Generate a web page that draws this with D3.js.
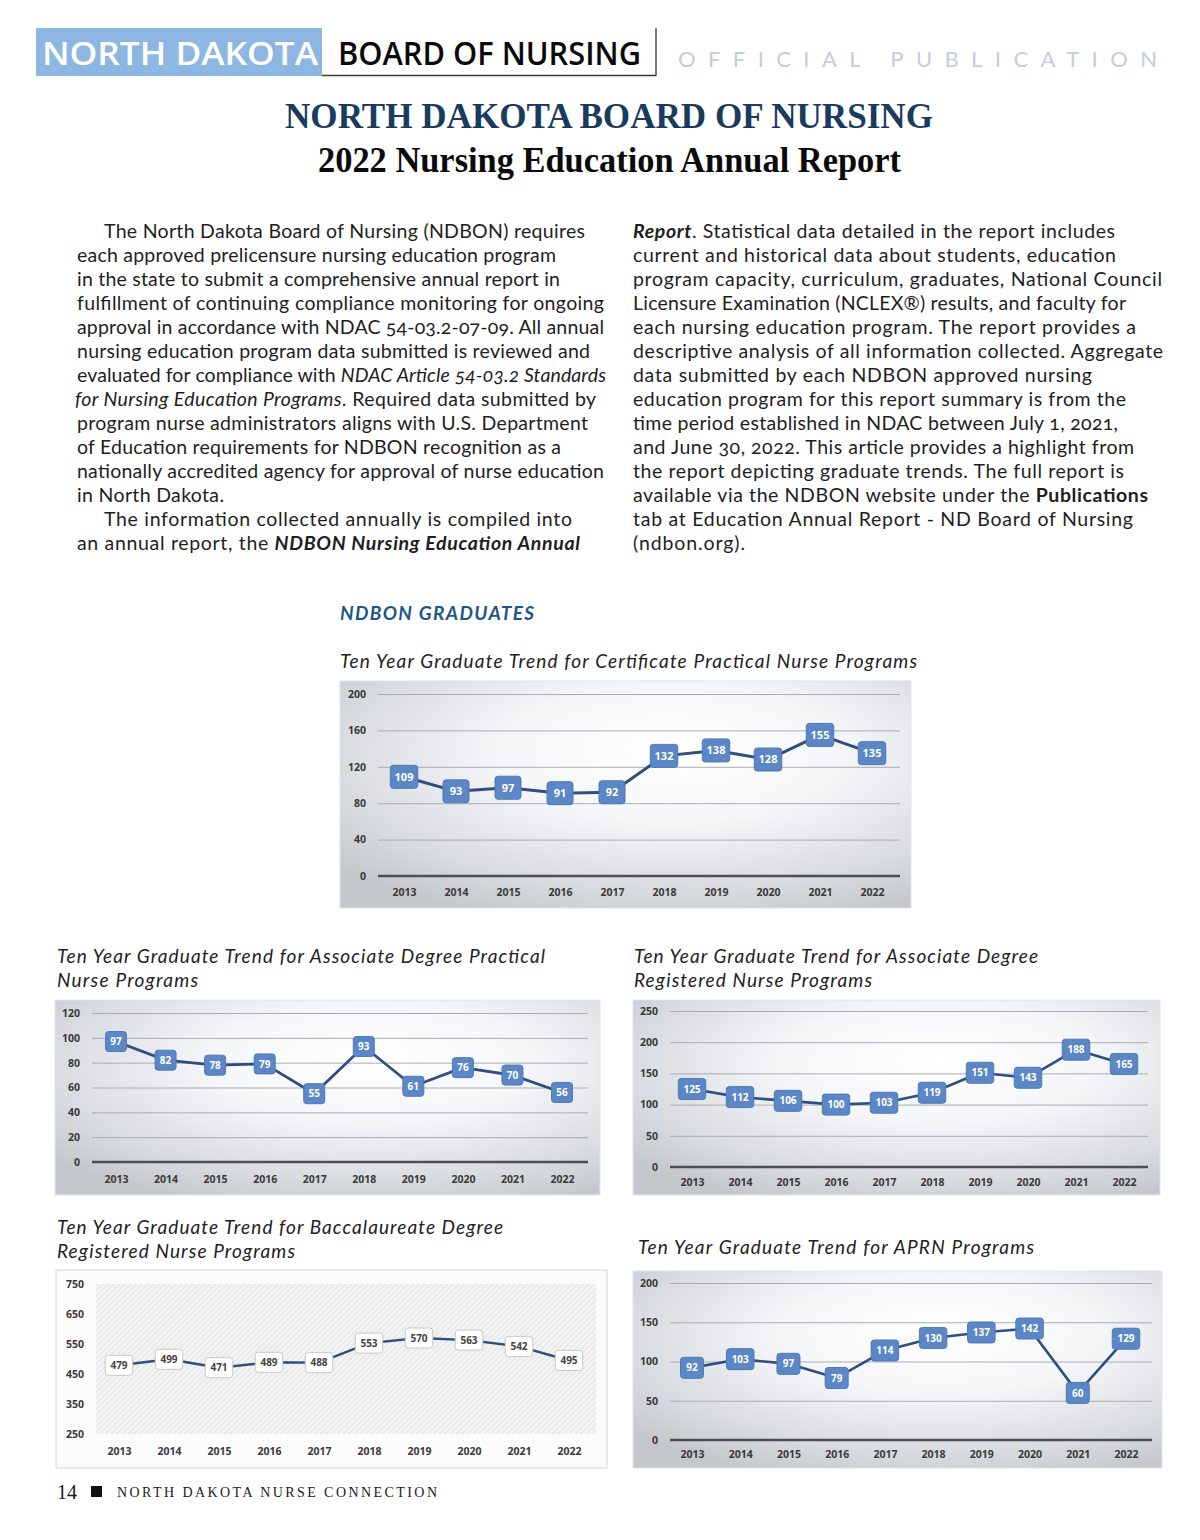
<!DOCTYPE html>
<html>
<head>
<meta charset="utf-8">
<script src="https://cdn.jsdelivr.net/npm/d3@7/dist/d3.min.js"></script>
<style>
  html, body { margin: 0; padding: 0; background: #ffffff; }
  svg { display: block; }
  .body-text { font-variant-numeric: oldstyle-nums; }
</style>
</head>
<body>
<script>
// ---------------- DATA ----------------
const years = ["2013","2014","2015","2016","2017","2018","2019","2020","2021","2022"];
const certificatePN = [109, 93, 97, 91, 92, 132, 138, 128, 155, 135];
const associatePN   = [97, 82, 78, 79, 55, 93, 61, 76, 70, 56];
const associateRN   = [125, 112, 106, 100, 103, 119, 151, 143, 188, 165];
const baccalaureateRN = [479, 499, 471, 489, 488, 553, 570, 563, 542, 495];
const aprn          = [92, 103, 97, 79, 114, 130, 137, 142, 60, 129];

const certificateTicks = [0, 40, 80, 120, 160, 200];
const associatePNTicks = [0, 20, 40, 60, 80, 100, 120];
const associateRNTicks = [0, 50, 100, 150, 200, 250];
const baccalaureateTicks = [250, 350, 450, 550, 650, 750];
const aprnTicks = [0, 50, 100, 150, 200];

// ---------------- TEXT ----------------
const leftLines = [
  [["The North Dakota Board of Nursing (NDBON) requires","n"]],
  [["each approved prelicensure nursing education program","n"]],
  [["in the state to submit a comprehensive annual report in","n"]],
  [["fulfillment of continuing compliance monitoring for ongoing","n"]],
  [["approval in accordance with NDAC 54-03.2-07-09. All annual","n"]],
  [["nursing education program data submitted is reviewed and","n"]],
  [["evaluated for compliance with ","n"],["NDAC Article 54-03.2 Standards","i"]],
  [["for Nursing Education Programs","i"],[". Required data submitted by","n"]],
  [["program nurse administrators aligns with U.S. Department","n"]],
  [["of Education requirements for NDBON recognition as a","n"]],
  [["nationally accredited agency for approval of nurse education","n"]],
  [["in North Dakota.","n"]],
  [["The information collected annually is compiled into","n"]],
  [["an annual report, the ","n"],["NDBON Nursing Education Annual","bi"]]
];
const leftStarts = [104,77,77,77,77,77,77,75,77,77,77,77,104,77];
const leftEnds   = [585,556,560,604,604,590,606,596,588,561,604,224,572,580];

const rightLines = [
  [["Report","bi"],[". Statistical data detailed in the report includes","n"]],
  [["current and historical data about students, education","n"]],
  [["program capacity, curriculum, graduates, National Council","n"]],
  [["Licensure Examination (NCLEX®) results, and faculty for","n"]],
  [["each nursing education program. The report provides a","n"]],
  [["descriptive analysis of all information collected. Aggregate","n"]],
  [["data submitted by each NDBON approved nursing","n"]],
  [["education program for this report summary is from the","n"]],
  [["time period established in NDAC between July 1, 2021,","n"]],
  [["and June 30, 2022. This article provides a highlight from","n"]],
  [["the report depicting graduate trends. The full report is","n"]],
  [["available via the NDBON website under the ","n"],["Publications","b"]],
  [["tab at Education Annual Report - ND Board of Nursing","n"]],
  [["(ndbon.org).","n"]]
];
const rightEnds = [1115,1116,1162,1126,1136,1163,1092,1126,1118,1134,1124,1148,1133,745];

// ---------------- PAGE ----------------
const svg = d3.select("body").append("svg")
  .attr("width", 1200).attr("height", 1540)
  .attr("viewBox", "0 0 1200 1540");
const defs = svg.append("defs");

// header
svg.append("rect").attr("x", 36).attr("y", 28).attr("width", 286).attr("height", 48).attr("fill", "#8db6e2");
svg.append("text").attr("x", 42).attr("y", 65)
  .attr("font-family", "'Open Sans', sans-serif").attr("font-size", 33).attr("font-weight", 600)
  .attr("fill", "#ffffff").attr("textLength", 276).attr("lengthAdjust", "spacingAndGlyphs")
  .text("NORTH DAKOTA");
svg.append("text").attr("x", 338).attr("y", 65)
  .attr("font-family", "'Open Sans', sans-serif").attr("font-size", 33).attr("font-weight", 600)
  .attr("fill", "#0a0a0a").attr("textLength", 303).attr("lengthAdjust", "spacingAndGlyphs")
  .text("BOARD OF NURSING");
svg.append("path").attr("d", "M322,75.5 H656 V28").attr("fill", "none").attr("stroke", "#3a3a3a").attr("stroke-width", 1.3);
svg.append("text").attr("x", 678).attr("y", 67)
  .attr("font-family", "Lato, sans-serif").attr("font-size", 22).attr("font-weight", 400)
  .attr("fill", "#c2cedc").attr("textLength", 479).attr("lengthAdjust", "spacing")
  .text("OFFICIAL PUBLICATION");

// title
svg.append("text").attr("x", 285).attr("y", 128)
  .attr("font-family", "'Liberation Serif', serif").attr("font-size", 36).attr("font-weight", 700)
  .attr("fill", "#1a3a5e").attr("textLength", 648).attr("lengthAdjust", "spacingAndGlyphs")
  .text("NORTH DAKOTA BOARD OF NURSING");
svg.append("text").attr("x", 318).attr("y", 172)
  .attr("font-family", "'Liberation Serif', serif").attr("font-size", 36).attr("font-weight", 700)
  .attr("fill", "#0a0a0a").attr("textLength", 583).attr("lengthAdjust", "spacingAndGlyphs")
  .text("2022 Nursing Education Annual Report");

// body text
function styleSpan(t, s) {
  t.attr("font-style", s.includes("i") ? "italic" : "normal")
   .attr("font-weight", s.includes("b") ? 700 : 400);
}
function bodyColumn(lines, starts, ends) {
  lines.forEach((segs, i) => {
    const t = svg.append("text").attr("class", "body-text")
      .attr("x", starts[i]).attr("y", 238 + i * 24)
      .attr("font-family", "Lato, sans-serif").attr("font-size", 19.5)
      .attr("fill", "#1e1e1e")
      .attr("textLength", ends[i] - starts[i]).attr("lengthAdjust", "spacing");
    segs.forEach(([txt, st]) => styleSpan(t.append("tspan").text(txt), st));
  });
}
bodyColumn(leftLines, leftStarts, leftEnds);
bodyColumn(rightLines, rightLines.map(() => 633), rightEnds);

// section heading
svg.append("text").attr("x", 340).attr("y", 620)
  .attr("font-family", "Lato, sans-serif").attr("font-size", 19).attr("font-weight", 700).attr("font-style", "italic")
  .attr("fill", "#1f5689").attr("textLength", 194).attr("lengthAdjust", "spacing")
  .text("NDBON GRADUATES");

// chart titles
const titleLines = [
  ["Ten Year Graduate Trend for Certificate Practical Nurse Programs", 340, 668, 577],
  ["Ten Year Graduate Trend for Associate Degree Practical", 57, 963, 488],
  ["Nurse Programs", 57, 987, 141],
  ["Ten Year Graduate Trend for Associate Degree", 634, 963, 404],
  ["Registered Nurse Programs", 634, 987, 238],
  ["Ten Year Graduate Trend for Baccalaureate Degree", 57, 1234, 446],
  ["Registered Nurse Programs", 57, 1258, 238],
  ["Ten Year Graduate Trend for APRN Programs", 638, 1254, 396]
];
titleLines.forEach(([txt, x, y, w]) => {
  svg.append("text").attr("x", x).attr("y", y)
    .attr("font-family", "Lato, sans-serif").attr("font-size", 19).attr("font-style", "italic")
    .attr("fill", "#222222").attr("textLength", w).attr("lengthAdjust", "spacing")
    .text(txt);
});

// gradients / patterns
const rg = defs.append("radialGradient").attr("id", "bgGrad")
  .attr("cx", "58%").attr("cy", "35%").attr("r", "75%").attr("fx", "58%").attr("fy", "30%");
rg.append("stop").attr("offset", "0%").attr("stop-color", "#ffffff");
rg.append("stop").attr("offset", "40%").attr("stop-color", "#f5f6f8");
rg.append("stop").attr("offset", "78%").attr("stop-color", "#d8dbdf");
rg.append("stop").attr("offset", "100%").attr("stop-color", "#c4c8cd");

const pat = defs.append("pattern").attr("id", "hatch").attr("patternUnits", "userSpaceOnUse")
  .attr("width", 4).attr("height", 4).attr("patternTransform", "rotate(45)");
pat.append("rect").attr("width", 4).attr("height", 4).attr("fill", "#f3f3f3");
pat.append("line").attr("x1", 0).attr("y1", 0).attr("x2", 0).attr("y2", 4)
  .attr("stroke", "#e0e0e0").attr("stroke-width", 1.6);

// ---------------- CHARTS ----------------
const charts = [
  { values: certificatePN, ticks: certificateTicks, domain: [0, 200],
    box: [340, 681, 571, 227], grid: [378, 900], xr: [404, 872], yr: [876, 694],
    xOff: 13, style: "blue", bh: 23, minW: 26, fs: 11, lw: 3 },
  { values: associatePN, ticks: associatePNTicks, domain: [0, 120],
    box: [55, 1000, 545, 195], grid: [92, 588], xr: [116, 562], yr: [1162, 1013],
    xOff: 14, style: "blue", bh: 20, minW: 21, fs: 10, lw: 2.8 },
  { values: associateRN, ticks: associateRNTicks, domain: [0, 250],
    box: [633, 1000, 527, 195], grid: [670, 1148], xr: [692, 1124], yr: [1167, 1011],
    xOff: 12, style: "blue", bh: 21, minW: 21, fs: 10, lw: 2.6 },
  { values: baccalaureateRN, ticks: baccalaureateTicks, domain: [250, 750],
    box: [56, 1270, 551, 198], grid: [96, 596], xr: [119, 569], yr: [1434, 1284],
    xOff: 14, style: "white", bh: 20, minW: 21, fs: 10, lw: 2.4 },
  { values: aprn, ticks: aprnTicks, domain: [0, 200],
    box: [633, 1271, 529, 197], grid: [670, 1152], xr: [692, 1126], yr: [1440, 1283],
    xOff: 11, style: "blue", bh: 21, minW: 23, fs: 10, lw: 2.6 }
];

charts.forEach(c => {
  const [bx, by, bw, bhh] = c.box;
  const g = svg.append("g");
  if (c.style === "blue") {
    g.append("rect").attr("x", bx).attr("y", by).attr("width", bw).attr("height", bhh)
      .attr("fill", "url(#bgGrad)").attr("stroke", "#e2e4e6").attr("stroke-width", 1);
  } else {
    g.append("rect").attr("x", bx).attr("y", by).attr("width", bw).attr("height", bhh)
      .attr("fill", "#fbfbfb").attr("stroke", "#dcdcdc").attr("stroke-width", 1.2);
    g.append("rect").attr("x", c.grid[0]).attr("y", c.yr[1])
      .attr("width", c.grid[1] - c.grid[0]).attr("height", c.yr[0] - c.yr[1])
      .attr("fill", "url(#hatch)");
  }

  const x = d3.scalePoint().domain(years).range(c.xr).padding(0);
  const y = d3.scaleLinear().domain(c.domain).range(c.yr);

  const ya = g.append("g").attr("transform", `translate(${c.grid[0]},0)`)
    .call(d3.axisLeft(y).tickValues(c.ticks).tickSize(c.style === "blue" ? -(c.grid[1] - c.grid[0]) : 0).tickPadding(12));
  ya.select(".domain").remove();
  ya.selectAll(".tick line").attr("stroke", "#a9adb3").attr("stroke-width", 1);
  ya.selectAll(".tick text").attr("font-family", "'Open Sans', sans-serif").attr("font-weight", 700)
    .attr("font-size", 10.5).attr("fill", "#3a3a3a");

  if (c.style === "blue") {
    g.append("line").attr("x1", c.grid[0]).attr("x2", c.grid[1])
      .attr("y1", y(c.domain[0])).attr("y2", y(c.domain[0]))
      .attr("stroke", "#4b4f55").attr("stroke-width", 2.6);
  }

  const xa = g.append("g").attr("transform", `translate(0,${c.yr[0]})`)
    .call(d3.axisBottom(x).tickSize(0).tickPadding(c.xOff));
  xa.select(".domain").remove();
  xa.selectAll(".tick text").attr("font-family", "'Open Sans', sans-serif").attr("font-weight", 700)
    .attr("font-size", 10.5).attr("fill", "#3a3a3a");

  const line = d3.line().x((d, i) => x(years[i])).y(d => y(d));
  g.append("path").datum(c.values).attr("d", line)
    .attr("fill", "none").attr("stroke", "#2f4f7f").attr("stroke-width", c.lw)
    .attr("stroke-linejoin", "round");

  const bw_ = d => Math.max(c.minW, String(d).length * 6.5 + 8);
  const lab = g.selectAll(".lab").data(c.values).enter().append("g")
    .attr("transform", (d, i) => `translate(${x(years[i])},${y(d)})`);
  lab.append("rect")
    .attr("x", d => -bw_(d) / 2)
    .attr("y", -c.bh / 2)
    .attr("width", d => bw_(d))
    .attr("height", c.bh)
    .attr("rx", 3).attr("ry", 3)
    .attr("fill", c.style === "blue" ? "#5b87c6" : "#ffffff")
    .attr("stroke", c.style === "blue" ? "#5079b5" : "#c9c9c9")
    .attr("stroke-width", 1);
  lab.append("text").attr("text-anchor", "middle").attr("dy", "0.36em")
    .attr("font-family", "'Open Sans', sans-serif").attr("font-weight", 700)
    .attr("font-size", c.fs)
    .attr("fill", c.style === "blue" ? "#ffffff" : "#444444")
    .text(d => d);
});

// footer
svg.append("text").attr("x", 57).attr("y", 1499)
  .attr("font-family", "'Liberation Serif', serif").attr("font-size", 20).attr("fill", "#1a1a1a").text("14");
svg.append("rect").attr("x", 91).attr("y", 1486).attr("width", 11).attr("height", 11).attr("fill", "#111111");
svg.append("text").attr("x", 117).attr("y", 1497)
  .attr("font-family", "'Liberation Serif', serif").attr("font-size", 14).attr("fill", "#1a1a1a")
  .attr("textLength", 320).attr("lengthAdjust", "spacing")
  .text("NORTH DAKOTA NURSE CONNECTION");
</script>
</body>
</html>
